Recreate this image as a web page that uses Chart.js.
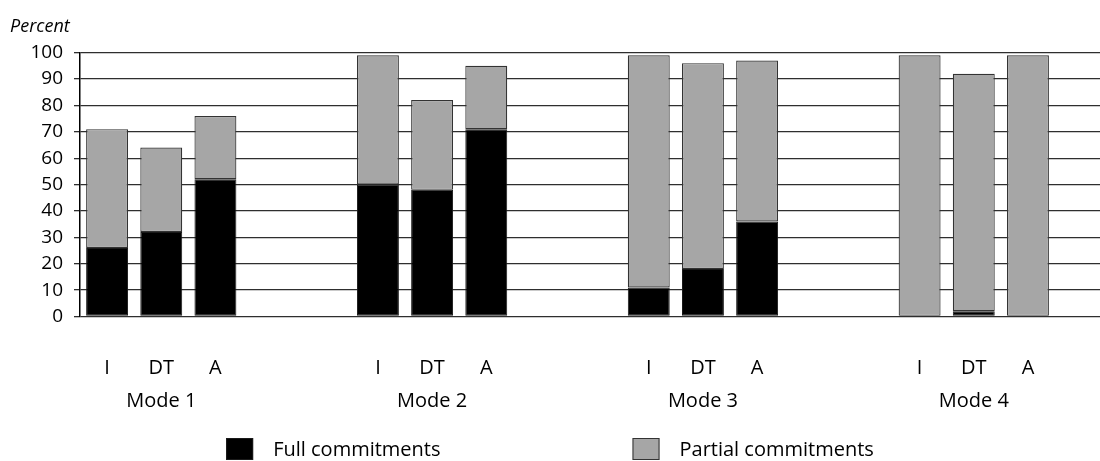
<!DOCTYPE html>
<html>
<head>
<meta charset="utf-8">
<script src="https://cdn.jsdelivr.net/npm/chart.js@4"></script>
<style>
  html, body { margin: 0; padding: 0; background: #fff; }
  #wrap { width: 1100px; height: 461px; position: relative; }
</style>
</head>
<body>
<div id="wrap"><canvas id="c"></canvas></div>
<script>
// ---- data ----
const categories = ['I', 'DT', 'A'];
const modes = ['Mode 1', 'Mode 2', 'Mode 3', 'Mode 4'];
const fullCommitments    = [26, 32, 52,  50, 48, 71,  11, 18, 36,  0, 2, 0];
const partialCommitments = [45, 32, 24,  49, 34, 24,  88, 78, 61,  99, 90, 99];
const yTicks = [0, 10, 20, 30, 40, 50, 60, 70, 80, 90, 100];
const seriesNames = ['Full commitments', 'Partial commitments'];

const FONT = "'Open Sans', 'Noto Sans', sans-serif";
Chart.defaults.font.family = FONT;
Chart.defaults.color = '#000';

// each mode occupies 5 slots: 3 bars + 2 empty slots
const slotsPerMode = categories.length + 2;
const posOf = i => Math.floor(i / categories.length) * slotsPerMode + (i % categories.length);
const positions = fullCommitments.map((_, i) => posOf(i));

const labelFor = i => {
  const b = i % categories.length;
  const m = Math.floor(i / categories.length);
  return b === 1 ? [categories[b], modes[m]] : categories[b];
};

const bottomLegend = {
  id: 'bottomLegend',
  afterDraw(chart) {
    const ctx = chart.ctx;
    ctx.save();
    ctx.font = '20px ' + FONT;
    ctx.textBaseline = 'middle';
    ctx.textAlign = 'left';
    const boxW = 27, boxH = 22, gap = 20, itemGap = 192;
    const items = chart.data.datasets.map(ds => ({
      text: ds.label, fill: ds.backgroundColor, stroke: ds.borderColor,
      w: ctx.measureText(ds.label).width
    }));
    let total = 0;
    items.forEach((it, k) => { total += boxW + gap + it.w + (k ? itemGap : 0); });
    let x = chart.width / 2 - total / 2;
    const cy = chart.height - 12;
    items.forEach(it => {
      ctx.fillStyle = it.fill;
      ctx.fillRect(x, cy - boxH / 2, boxW, boxH);
      ctx.strokeStyle = it.stroke;
      ctx.lineWidth = 1;
      ctx.strokeRect(x + 0.5, cy - boxH / 2 + 0.5, boxW - 1, boxH - 1);
      ctx.fillStyle = '#000';
      ctx.fillText(it.text, x + boxW + gap, cy + 1);
      x += boxW + gap + it.w + itemGap;
    });
    ctx.restore();
  }
};

new Chart(document.getElementById('c'), {
  type: 'bar',
  data: {
    datasets: [
      {
        label: seriesNames[0],
        data: fullCommitments.map((v, i) => ({ x: positions[i], y: v })),
        backgroundColor: '#000000',
        borderColor: '#1a1a1a',
        borderWidth: 1,
        borderSkipped: false,
        barPercentage: 0.9,
        categoryPercentage: 0.86,
        stack: 's'
      },
      {
        label: seriesNames[1],
        data: partialCommitments.map((v, i) => ({ x: positions[i], y: v })),
        backgroundColor: '#a6a6a6',
        borderColor: '#333333',
        borderWidth: 1.2,
        borderSkipped: false,
        barPercentage: 0.9,
        categoryPercentage: 0.86,
        stack: 's'
      }
    ]
  },
  options: {
    responsive: true,
    maintainAspectRatio: false,
    animation: false,
    layout: { padding: { left: 10, right: 0, top: 0, bottom: 7.5 } },
    plugins: {
      legend: { display: false },
      tooltip: { enabled: false },
      title: {
        display: true,
        text: 'Percent',
        align: 'start',
        color: '#000',
        font: { size: 18, style: 'italic', weight: 'normal', family: FONT },
        padding: { top: 16, bottom: 15 }
      }
    },
    scales: {
      x: {
        type: 'linear',
        offset: false,
        min: -0.5,
        max: 18.33,
        grid: { display: false, drawTicks: false },
        border: { display: false },
        afterBuildTicks: scale => { scale.ticks = positions.map(v => ({ value: v })); },
        ticks: {
          autoSkip: false,
          maxRotation: 0,
          minRotation: 0,
          padding: 35.5,
          color: '#000',
          font: { size: 20, family: FONT, lineHeight: '33px' },
          callback: (value, index) => labelFor(index)
        }
      },
      y: {
        stacked: true,
        min: 0,
        max: 100,
        afterBuildTicks: scale => { scale.ticks = yTicks.map(v => ({ value: v })); },
        afterFit: scale => { scale.width = 70; },
        ticks: {
          autoSkip: false,
          stepSize: 10,
          padding: 11,
          color: '#000',
          font: { size: 19, family: FONT }
        },
        grid: {
          color: '#2e2e2e',
          lineWidth: 1.3,
          drawTicks: true,
          tickLength: 6,
          tickColor: '#2e2e2e'
        },
        border: { display: true, color: '#000', width: 1.5 }
      }
    }
  },
  plugins: [bottomLegend]
});
</script>
</body>
</html>
